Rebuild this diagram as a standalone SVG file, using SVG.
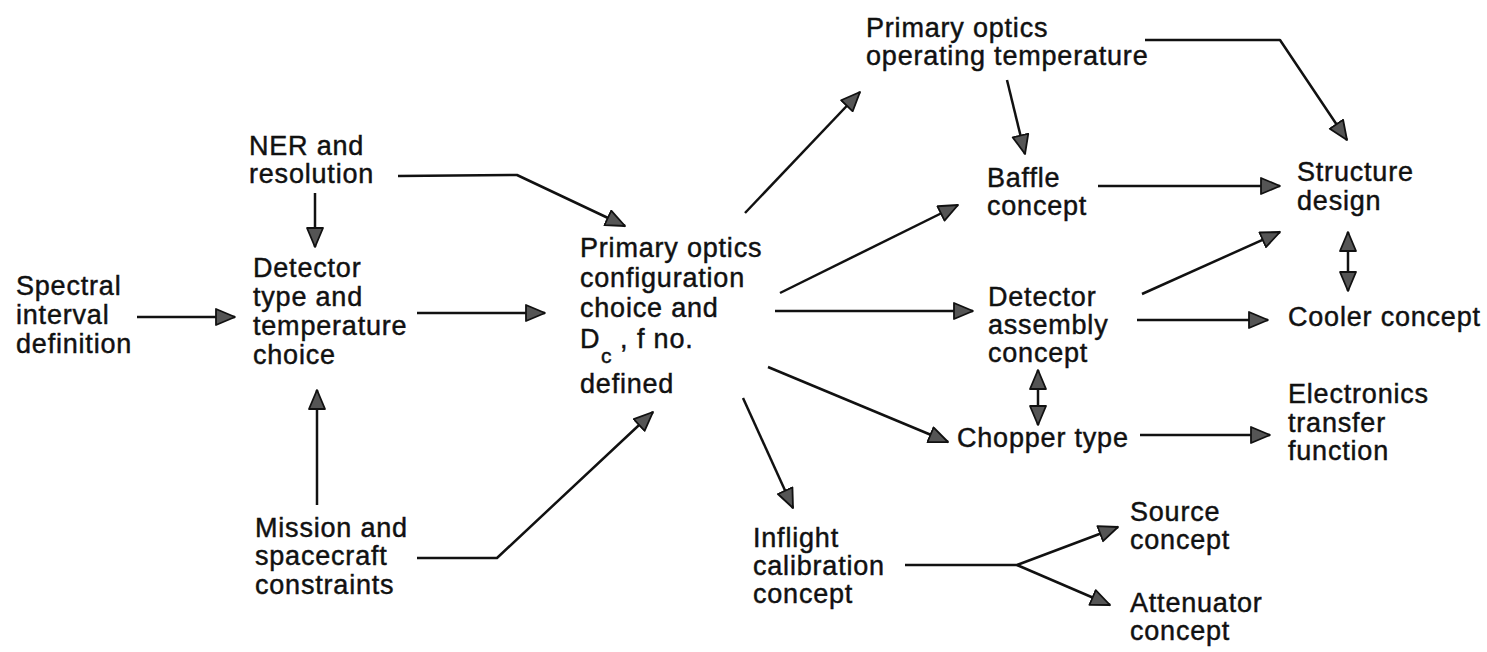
<svg xmlns="http://www.w3.org/2000/svg" width="1487" height="652" viewBox="0 0 1487 652">
  <style>
    .lbl { font-family: "Liberation Sans", Arial, sans-serif; font-size: 27px; fill: #111; stroke: #111; stroke-width: 0.45; letter-spacing: 0.8px; }
    .sub { font-size: 21px; }
    .edge { fill: none; stroke: #111; stroke-width: 2.5; stroke-linejoin: round; }
  </style>
  <defs>
    <marker id="arrow" markerUnits="userSpaceOnUse" markerWidth="22" markerHeight="20" refX="20" refY="9" orient="auto-start-reverse" viewBox="0 0 22 20">
      <path d="M1,1 L20,9 L1,17 Z" fill="#555" stroke="#111" stroke-width="1.8" stroke-linejoin="round"/>
    </marker>
  </defs>
  <rect width="1487" height="652" fill="#fff"/>

  <!-- connectors -->
  <g id="connectors" class="edge">
    <line x1="137" y1="317" x2="235" y2="317" marker-end="url(#arrow)"/>
    <line x1="315" y1="193" x2="315" y2="247" marker-end="url(#arrow)"/>
    <line x1="317" y1="505" x2="317" y2="390" marker-end="url(#arrow)"/>
    <polyline points="398,176 517,175 625,226" marker-end="url(#arrow)"/>
    <line x1="417" y1="313" x2="545" y2="313" marker-end="url(#arrow)"/>
    <polyline points="417,558 497,558 653,412" marker-end="url(#arrow)"/>
    <line x1="745" y1="213" x2="860" y2="92" marker-end="url(#arrow)"/>
    <line x1="780" y1="293" x2="958" y2="205" marker-end="url(#arrow)"/>
    <line x1="775" y1="311" x2="973" y2="311" marker-end="url(#arrow)"/>
    <line x1="768" y1="367" x2="948" y2="442" marker-end="url(#arrow)"/>
    <line x1="743" y1="398" x2="793" y2="508" marker-end="url(#arrow)"/>
    <line x1="1007" y1="80" x2="1025" y2="154" marker-end="url(#arrow)"/>
    <polyline points="1145,40 1280,40 1347,140" marker-end="url(#arrow)"/>
    <line x1="1098" y1="186" x2="1280" y2="186" marker-end="url(#arrow)"/>
    <line x1="1142" y1="294" x2="1280" y2="232" marker-end="url(#arrow)"/>
    <line x1="1137" y1="320" x2="1268" y2="320" marker-end="url(#arrow)"/>
    <line x1="1348" y1="232" x2="1348" y2="291" marker-start="url(#arrow)" marker-end="url(#arrow)"/>
    <line x1="1038" y1="370" x2="1038" y2="425" marker-start="url(#arrow)" marker-end="url(#arrow)"/>
    <line x1="1140" y1="435" x2="1270" y2="435" marker-end="url(#arrow)"/>
    <polyline points="905,565 1017,565 1118,527" marker-end="url(#arrow)"/>
    <line x1="1017" y1="565" x2="1110" y2="605" marker-end="url(#arrow)"/>
  </g>

  <!-- nodes -->
  <g id="spectral">
    <text class="lbl" x="16" y="295">Spectral</text>
    <text class="lbl" x="16" y="324">interval</text>
    <text class="lbl" x="16" y="353">definition</text>
  </g>
  <g id="ner">
    <text class="lbl" x="249" y="155">NER and</text>
    <text class="lbl" x="249" y="183">resolution</text>
  </g>
  <g id="detector-type">
    <text class="lbl" x="253" y="277">Detector</text>
    <text class="lbl" x="253" y="306">type and</text>
    <text class="lbl" x="253" y="335">temperature</text>
    <text class="lbl" x="253" y="364">choice</text>
  </g>
  <g id="mission">
    <text class="lbl" x="255" y="537">Mission and</text>
    <text class="lbl" x="255" y="565">spacecraft</text>
    <text class="lbl" x="255" y="594">constraints</text>
  </g>
  <g id="primary-config">
    <text class="lbl" x="580" y="257">Primary optics</text>
    <text class="lbl" x="580" y="287">configuration</text>
    <text class="lbl" x="580" y="317">choice and</text>
    <text class="lbl" x="580" y="348">D<tspan class="sub" x="601" y="363">c</tspan><tspan x="620" y="348">,</tspan><tspan x="637" y="348">f no.</tspan></text>
    <text class="lbl" x="580" y="393">defined</text>
  </g>
  <g id="operating-temp">
    <text class="lbl" x="866" y="37">Primary optics</text>
    <text class="lbl" x="866" y="65">operating temperature</text>
  </g>
  <g id="baffle">
    <text class="lbl" x="987" y="187">Baffle</text>
    <text class="lbl" x="987" y="215">concept</text>
  </g>
  <g id="structure">
    <text class="lbl" x="1297" y="181">Structure</text>
    <text class="lbl" x="1297" y="210">design</text>
  </g>
  <g id="detector-assembly">
    <text class="lbl" x="988" y="306">Detector</text>
    <text class="lbl" x="988" y="334">assembly</text>
    <text class="lbl" x="988" y="362">concept</text>
  </g>
  <g id="cooler">
    <text class="lbl" x="1288" y="326">Cooler concept</text>
  </g>
  <g id="chopper">
    <text class="lbl" x="957" y="447">Chopper type</text>
  </g>
  <g id="electronics">
    <text class="lbl" x="1288" y="403">Electronics</text>
    <text class="lbl" x="1288" y="432">transfer</text>
    <text class="lbl" x="1288" y="460">function</text>
  </g>
  <g id="inflight">
    <text class="lbl" x="753" y="547">Inflight</text>
    <text class="lbl" x="753" y="575">calibration</text>
    <text class="lbl" x="753" y="603">concept</text>
  </g>
  <g id="source">
    <text class="lbl" x="1130" y="521">Source</text>
    <text class="lbl" x="1130" y="549">concept</text>
  </g>
  <g id="attenuator">
    <text class="lbl" x="1130" y="612">Attenuator</text>
    <text class="lbl" x="1130" y="640">concept</text>
  </g>
</svg>
